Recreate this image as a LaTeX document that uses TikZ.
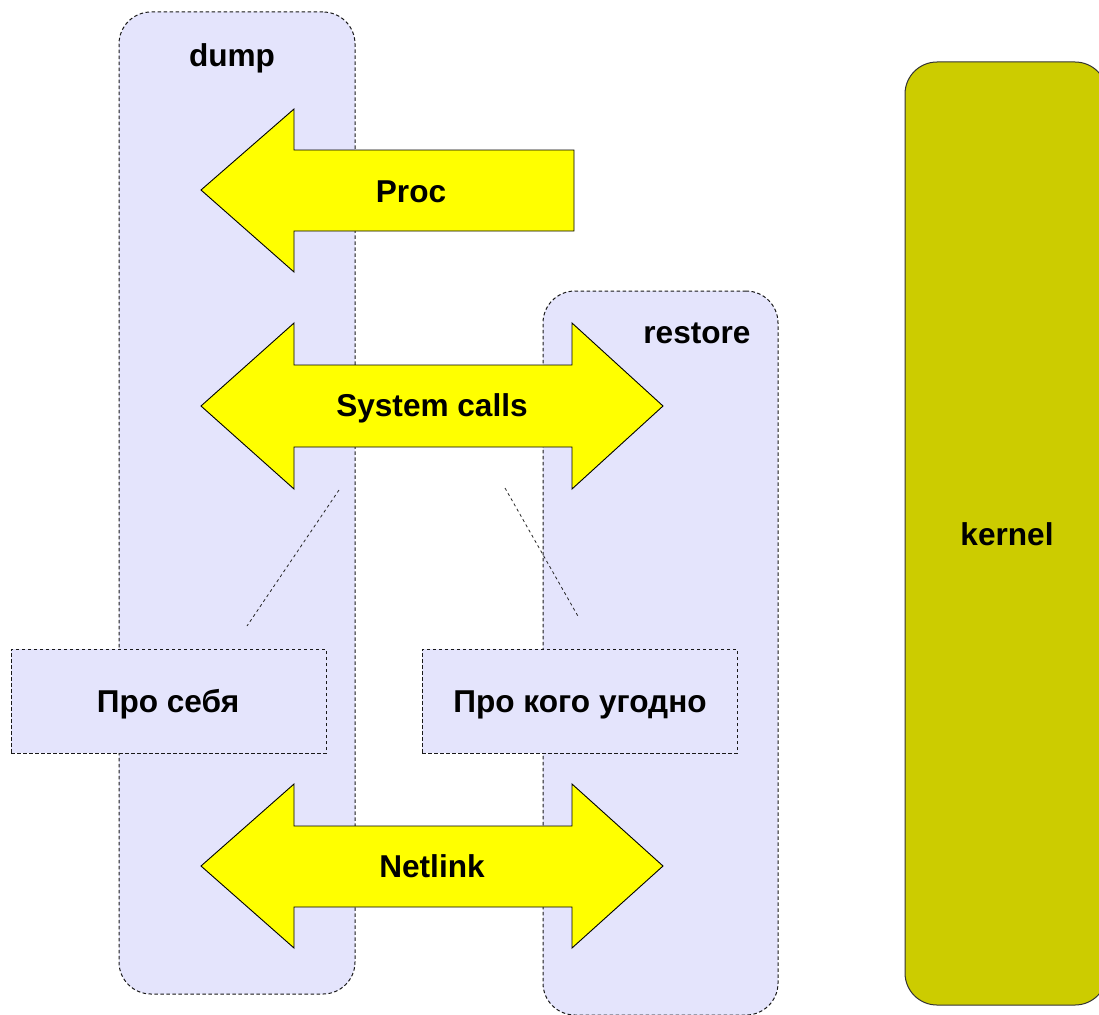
\documentclass[tikz,border=0pt]{standalone}
\usepackage{fontspec}
\setmainfont{Liberation Sans}
\definecolor{lane}{RGB}{228,228,252}
\definecolor{kernelfill}{RGB}{204,204,0}
\definecolor{flow}{RGB}{255,255,0}
\tikzset{
  dashline/.style={line width=1pt, dash pattern=on 3.5pt off 2.5pt, draw=black!90},
  lanebox/.style={dashline, fill=lane, rounded corners=32pt, inner sep=0pt},
  notebox/.style={dashline, fill=lane, inner sep=0pt},
  corebox/.style={draw=black!80, line width=1pt, fill=kernelfill, rounded corners=32pt, inner sep=0pt},
  flowarrow/.style={draw=black, line width=0.9pt, fill=flow, line join=miter},
  lbl/.style={font=\bfseries\fontsize{31.6}{38}\selectfont, text=black, inner sep=0pt, anchor=base},
  hint/.style={line width=0.8pt, dash pattern=on 3pt off 3pt, draw=black!85}
}
\begin{document}
\begin{tikzpicture}[x=1pt,y=-1pt]
\useasboundingbox (0,0) rectangle (1099,1014);

% process lanes and the kernel column
\node[lanebox, minimum width=236pt, minimum height=982pt] (dump) at (237,503) {};
\node[lanebox, minimum width=235pt, minimum height=724pt] (restore) at (660.5,653) {};
\node[corebox, minimum width=202pt, minimum height=943pt] (kernel) at (1006,533.5) {};

\node[lbl] (dumplbl) at (232,67) {dump};
\node[lbl] (restorelbl) at (697,343) {restore};
\node[lbl] (kernellbl) at (1007,545) {kernel};

% notes about whose state is read
\node[notebox, minimum width=315pt, minimum height=104pt] (self) at (168.5,701) {};
\node[notebox, minimum width=315pt, minimum height=104pt] (any) at (579.5,701) {};
\node[lbl] (selflbl) at (168,712) {Про себя};
\node[lbl] (anylbl) at (580,712) {Про кого угодно};

% interfaces
\draw[flowarrow] (201,190) -- (294,109) -- (294,150) -- (574,150) -- (574,231)
  -- (294,231) -- (294,272) -- cycle;
\node[lbl] (proc) at (411,202) {Proc};

\draw[flowarrow] (201,406) -- (294,323) -- (294,365) -- (572,365) -- (572,323)
  -- (663,406) -- (572,489) -- (572,447) -- (294,447) -- (294,489) -- cycle;
\node[lbl] (syscalls) at (432,416) {System calls};

\draw[flowarrow] (201,866) -- (294,784) -- (294,826) -- (572,826) -- (572,784)
  -- (663,866) -- (572,948) -- (572,907) -- (294,907) -- (294,948) -- cycle;
\node[lbl] (netlink) at (432,877) {Netlink};

% pointers from the system calls to the notes
\coordinate (sysL) at (339,490);
\coordinate (sysR) at (505,488);
\coordinate (selfT) at (247,626);
\coordinate (anyT) at (579,618);
\draw[hint] (sysL) -- (selfT);
\draw[hint] (sysR) -- (anyT);
\end{tikzpicture}
\end{document}
